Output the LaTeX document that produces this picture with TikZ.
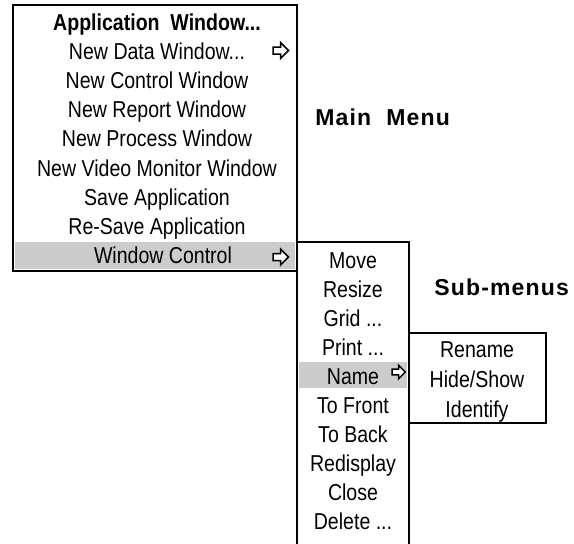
\documentclass[tikz,border=0pt]{standalone}
\usepackage{fontspec}
\setmainfont{Liberation Sans}
\newfontfamily\menufont[FakeStretch=0.85]{Liberation Sans}
\newfontfamily\labelfont[LetterSpace=5]{Liberation Sans}
\usetikzlibrary{positioning}

% three dots, kept out of \foreach's reach
\newcommand{\etc}{...}
% open "more" arrow: x, y, size
\newcommand{\openarrow}[3]{%
  \draw[line width=0.75pt, line join=miter, fill=white, shift={(#1,#2)}, scale=#3]
    (-7.5,-3.5) -- (0,-3.5) -- (0,-8) -- (8,0) -- (0,8) -- (0,3.5) -- (-7.5,3.5) -- cycle;}

\begin{document}
\begin{tikzpicture}[x=0.5pt, y=-0.5pt,
    item/.style={anchor=base, inner sep=0pt, font=\menufont\fontsize{11.5}{13}\selectfont},
    menu/.style={line width=1pt},
    hilite/.style={fill=black!20},
    caption/.style={anchor=base west, inner sep=0pt, font=\labelfont\bfseries\fontsize{11.5}{13}\selectfont}]
    \useasboundingbox (0,0) rectangle (574,543);
    \def\xL{13} \def\xM{297} \def\xR{409} \def\xS{546}
    % Highlighted entries
    \fill[hilite] (\xL+2,242) rectangle (\xM-2,269);
    \fill[hilite] (\xM+2,362) rectangle (\xR-2,388);
    % Main menu
    \draw[menu] (\xL,5) rectangle (\xM,271);
    \node[item, font=\menufont\bfseries\fontsize{11.5}{13}\selectfont] (main-0) at (157,30) {Application\ \ Window\etc};
    \foreach \lab [count=\i] in {{New Data Window\etc\hspace{1.2em}}, New Control Window, New Report Window,
        New Process Window, New Video Monitor Window, Save Application, Re-Save Application} {
        \node[item] (main-\i) at (157,30+\i*29.2) {\lab};
    }
    \node[item] (main-8) at (163,263.5) {Window Control};
    \openarrow{280.5}{50.5}{1}
    \openarrow{280.5}{257}{1}
    % Sub-menu (runs off the bottom)
    \draw[menu] (\xM,546) -- (\xM,242) -- (\xR,242) -- (\xR,546);
    \foreach \lab [count=\i from 0] in {Move, Resize, {Grid \etc}, {Print \etc}, Name, To Front,
        To Back, Redisplay, Close, {Delete \etc}} {
        \node[item] (sub-\i) at (353,268+\i*29) {\lab};
    }
    \openarrow{398.5}{372}{0.85}
    % Name sub-menu
    \draw[menu] (\xR,333) rectangle (\xS,423);
    \foreach \lab [count=\i from 0] in {Rename, Hide/Show, Identify} {
        \node[item] (name-\i) at (477,357+\i*30) {\lab};
    }
    % Captions
    \node[caption] (mainlabel) at (315,125) {Main\ \ Menu};
    \node[caption] (sublabel) at (434,295) {Sub-menus};
\end{tikzpicture}
\end{document}
